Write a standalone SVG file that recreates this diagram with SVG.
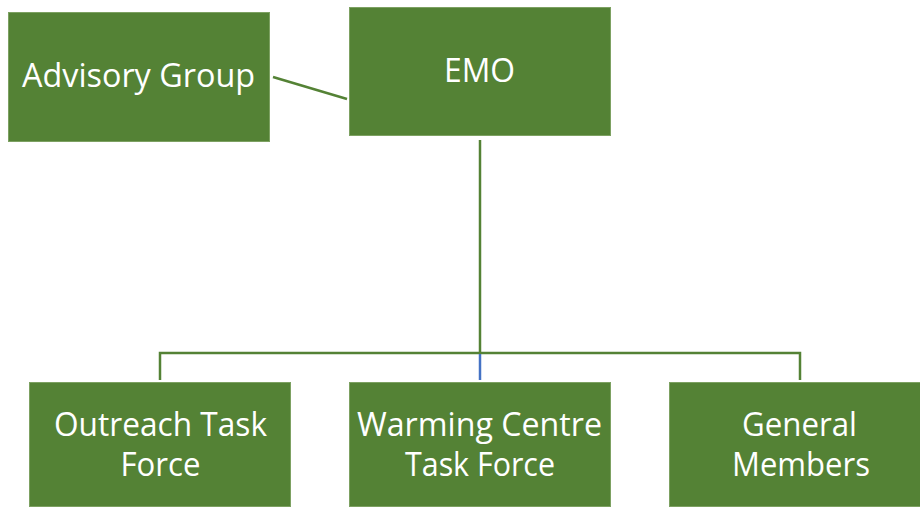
<svg xmlns="http://www.w3.org/2000/svg" width="920" height="507" viewBox="0 0 920 507">
<style>
.box{fill:#548235;stroke:#7da162;stroke-width:1}
.lbl{fill:#ffffff;font-family:"Open Sans","Liberation Sans",sans-serif;font-size:32px;text-anchor:middle}
.con{fill:none;stroke:#548235;stroke-width:2.5}
</style>
<rect width="920" height="507" fill="#ffffff"/>
<g id="connectors">
<line class="con" x1="273" y1="77" x2="347" y2="99"/>
<line class="con" x1="480" y1="140" x2="480" y2="354"/>
<polyline class="con" points="160,380 160,353 800,353 800,380"/>
<line x1="480" y1="354" x2="480" y2="380" stroke="#4472c4" stroke-width="2.5"/>
</g>
<g id="advisory">
<rect class="box" x="8.5" y="12.5" width="261" height="129"/>
<text class="lbl" x="138.5" y="87" textLength="233" lengthAdjust="spacingAndGlyphs">Advisory Group</text>
</g>
<g id="emo">
<rect class="box" x="349.5" y="7.5" width="261" height="128"/>
<text class="lbl" x="479.5" y="82" textLength="71" lengthAdjust="spacingAndGlyphs">EMO</text>
</g>
<g id="outreach">
<rect class="box" x="29.5" y="382.5" width="261" height="124"/>
<text class="lbl" x="160.5" y="436" textLength="213" lengthAdjust="spacingAndGlyphs">Outreach Task</text>
<text class="lbl" x="160.5" y="476" textLength="80" lengthAdjust="spacingAndGlyphs">Force</text>
</g>
<g id="warming">
<rect class="box" x="349.5" y="382.5" width="261" height="124"/>
<text class="lbl" x="479.5" y="436" textLength="245" lengthAdjust="spacingAndGlyphs">Warming Centre</text>
<text class="lbl" x="480" y="476" textLength="150" lengthAdjust="spacingAndGlyphs">Task Force</text>
</g>
<g id="general">
<rect class="box" x="669.5" y="382.5" width="262" height="124"/>
<text class="lbl" x="799.5" y="436" textLength="115" lengthAdjust="spacingAndGlyphs">General</text>
<text class="lbl" x="801" y="476" textLength="138" lengthAdjust="spacingAndGlyphs">Members</text>
</g>
</svg>
